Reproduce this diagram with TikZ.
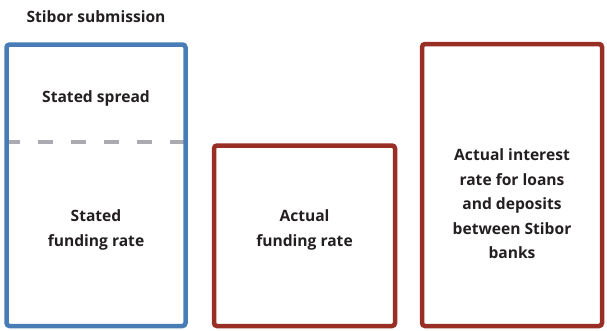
\documentclass[tikz,border=0pt]{standalone}
\usepackage{fontspec}
\setmainfont{Open Sans}
\usepackage{tikz}
\usetikzlibrary{backgrounds}

\definecolor{subblue}{RGB}{72,124,182}
\definecolor{actred}{RGB}{152,46,36}
\definecolor{splitgray}{RGB}{170,170,176}
\definecolor{txtdark}{RGB}{35,31,32}

\tikzset{
  subbox/.style={draw=subblue,line width=4.5pt,rounded corners=3pt,inner sep=0pt},
  actbox/.style={draw=actred,line width=4.5pt,rounded corners=3pt,inner sep=0pt},
  splitline/.style={draw=splitgray,line width=4.5pt,dash pattern=on 15pt off 18pt},
  lbl/.style={text=txtdark,font=\bfseries\fontsize{15.6}{24.5}\selectfont,align=center,inner sep=0.75pt}
}

\begin{document}
\begin{tikzpicture}[x=1pt,y=1pt,yscale=-1,xscale=1]
\useasboundingbox (0,0) rectangle (607,330);

%Shape: Rectangle [id:sub]
\node[subbox,minimum width=179,minimum height=281.5] (sub) at (96,185.25) {};
%Shape: Rectangle [id:actfund]
\node[actbox,minimum width=181,minimum height=180.5] (actfund) at (304.5,235.75) {};
%Shape: Rectangle [id:actrate]
\node[actbox,minimum width=180,minimum height=282] (actrate) at (512,185) {};

%Straight Lines [id:split]
\coordinate (splitL) at (5,142);
\coordinate (splitR) at (185,142);
\begin{scope}[on background layer]
\draw[splitline] (splitL) -- (splitR);
\end{scope}

% Text Node
\node[lbl] (title) at (96,17) {Stibor submission};
% Text Node
\node[lbl] (spread) at (96,98) {Stated spread};
% Text Node
\node[lbl] (statfund) at (96,230) {Stated\\funding rate};
% Text Node
\node[lbl] (actfundtxt) at (304.5,230) {Actual\\funding rate};
% Text Node
\node[lbl] (actratetxt) at (512,204) {Actual interest\\rate for loans\\and deposits\\between Stibor\\banks};

\end{tikzpicture}
\end{document}
